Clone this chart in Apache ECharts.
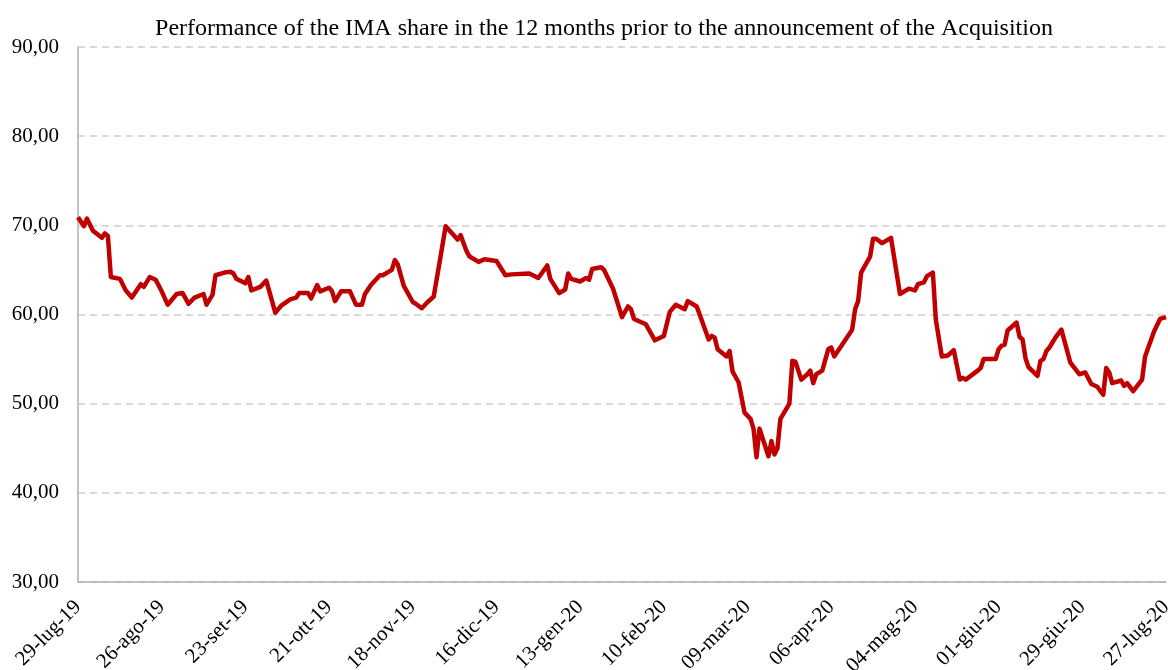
<!DOCTYPE html>
<html>
<head>
<meta charset="utf-8">
<script src="https://cdn.jsdelivr.net/npm/echarts@6/dist/echarts.min.js"></script>
<style>
html,body{margin:0;padding:0;background:#fff;}
#chart{width:1168px;height:670px;}
</style>
</head>
<body>
<div id="chart"></div>
<script>
// Days elapsed since 29-lug-19 and IMA share price
const days = [0,2,3,5,8,9,10,11,14,16,18,21,22,24,26,28,30,33,35,37,39,42,43,45,46,49,51,52,53,56,57,58,61,63,66,68,71,73,74,77,78,80,81,84,85,86,88,91,93,95,96,98,101,102,105,106,107,109,112,113,115,117,119,121,123,127,128,130,131,134,136,140,143,145,151,154,157,158,161,163,164,165,168,170,171,172,175,176,179,182,184,185,186,190,193,196,198,200,203,204,207,211,212,213,214,217,218,219,221,223,225,226,227,228,231,232,233,234,235,238,239,240,242,244,245,246,247,249,251,252,253,259,260,261,262,265,266,267,269,272,275,278,280,281,283,284,286,287,289,291,293,295,296,297,301,302,303,307,308,309,310,311,314,315,316,317,318,321,322,323,324,325,327,329,332,335,337,339,341,343,344,345,346,349,350,351,353,356,357,360,362,364];
const prices = [70.9,69.9,70.75,69.4,68.6,69.1,68.8,64.2,64.0,62.7,61.9,63.4,63.1,64.2,63.9,62.6,61.1,62.3,62.4,61.2,61.9,62.3,61.1,62.2,64.4,64.7,64.8,64.6,64.0,63.5,64.2,62.7,63.1,63.8,60.2,61.0,61.7,61.9,62.4,62.4,61.8,63.3,62.6,63.0,62.6,61.5,62.6,62.6,61.1,61.1,62.3,63.3,64.4,64.4,65.0,66.1,65.6,63.2,61.4,61.2,60.7,61.4,62.0,65.9,69.9,68.4,68.9,67.1,66.5,65.9,66.2,66.0,64.4,64.5,64.6,64.1,65.5,64.0,62.4,62.8,64.6,64.0,63.7,64.1,63.9,65.1,65.3,65.0,62.9,59.7,60.9,60.6,59.5,58.9,57.1,57.6,60.3,61.1,60.6,61.5,60.9,57.2,57.6,57.4,56.1,55.3,55.9,53.6,52.4,49.0,48.3,47.2,44.0,47.2,44.1,45.8,44.3,45.0,48.3,50.0,54.8,54.7,52.7,53.3,53.7,52.3,53.3,53.7,56.1,56.3,55.3,58.3,60.6,61.5,64.7,66.5,68.5,68.5,68.0,68.6,62.3,62.9,62.7,63.4,63.6,64.3,64.7,59.4,55.3,55.4,56.0,52.7,52.9,52.7,53.7,54.0,55.0,55.0,56.1,56.5,56.6,58.2,59.1,57.5,57.2,55.1,54.1,53.1,54.8,55.0,55.9,56.3,57.4,58.3,54.6,53.3,53.5,52.2,51.9,51.0,54.0,53.5,52.3,52.6,52.0,52.3,51.4,52.7,55.3,58.1,59.5,59.7];
const tickDays = [0,28,56,84,112,140,168,196,224,252,280,308,336,364];
const tickLabels = ['29-lug-19','26-ago-19','23-set-19','21-ott-19','18-nov-19','16-dic-19','13-gen-20','10-feb-20','09-mar-20','06-apr-20','04-mag-20','01-giu-20','29-giu-20','27-lug-20'];
const yTicks = [30,40,50,60,70,80,90];
const titleText = 'Performance of the IMA share in the 12 months prior to the announcement of the Acquisition';

const chart = echarts.init(document.getElementById('chart'), null, {renderer:'canvas'});
const FONT = '"Liberation Serif", "Times New Roman", serif';
chart.setOption({
  animation:false,
  backgroundColor:'#ffffff',
  title:{
    text:titleText,
    left:599, top:12, textAlign:'center',
    textStyle:{fontFamily:FONT,fontSize:24,fontWeight:'normal',color:'#000'}
  },
  grid:{left:78,right:2,top:47,bottom:88,containLabel:false,outerBoundsMode:'none'},
  xAxis:{
    type:'value', min:0, max:364,
    axisLine:{show:true,lineStyle:{color:'#b0b0b0',width:1.5}},
    axisTick:{show:false},
    splitLine:{show:false},
    axisLabel:{
      customValues:tickDays,
      rotate:45, margin:22,
      fontFamily:FONT, fontSize:21, color:'#000',
      formatter:function(v){const i=tickDays.indexOf(Math.round(v));return i>=0?tickLabels[i]:'';}
    }
  },
  yAxis:{
    type:'value', min:yTicks[0], max:yTicks[yTicks.length-1], interval:10,
    axisLine:{show:true,lineStyle:{color:'#b0b0b0',width:1.5}},
    axisTick:{show:false},
    splitLine:{show:true,lineStyle:{color:'#d9d9d9',width:2,type:[7,5]}},
    axisLabel:{
      margin:19, fontFamily:FONT, fontSize:21, color:'#000',
      formatter:function(v){return v.toFixed(2).replace('.',',');}
    }
  },
  series:[{
    type:'line',
    data:days.map((d,i)=>[d,prices[i]]),
    showSymbol:false, symbol:'none',
    lineStyle:{color:'#c00000',width:4.5,join:'round'},
    itemStyle:{color:'#c00000'}
  }]
});
</script>
</body>
</html>
